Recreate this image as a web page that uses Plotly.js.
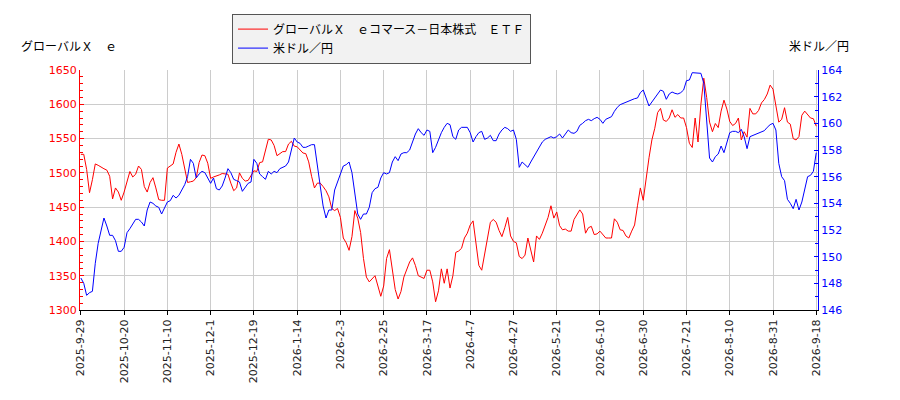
<!DOCTYPE html>
<html>
<head>
<meta charset="utf-8">
<script src="https://cdn.plot.ly/plotly-3.0.1.min.js"></script>
<style>
  html, body { margin: 0; padding: 0; background: #fff; }
  #chart { width: 900px; height: 400px; }
</style>
</head>
<body>
<div id="chart"></div>
<script>
// tick dates, one every 15 trading days
const tickDays = [0, 15, 30, 45, 60, 75, 90, 105, 120, 135, 150, 165, 180, 195, 210, 225, 240, 255];
const tickLabels = ['2025-9-29', '2025-10-20', '2025-11-10', '2025-12-1', '2025-12-19', '2026-1-14',
  '2026-2-3', '2026-2-25', '2026-3-17', '2026-4-7', '2026-4-27', '2026-5-21', '2026-6-10',
  '2026-6-30', '2026-7-21', '2026-8-10', '2026-8-31', '2026-9-18'];

// ETF closing price, one per trading day
const etfPrice = [
  1527, 1527, 1505, 1471, 1490, 1513, 1511, 1508, 1506, 1504,
  1495, 1462, 1478, 1472, 1460, 1472, 1488, 1502, 1494, 1498,
  1510, 1505, 1480, 1472, 1486, 1493, 1478, 1461, 1460, 1460,
  1507, 1510, 1513, 1530, 1542, 1527, 1505, 1486, 1487, 1488,
  1493, 1515, 1526, 1525, 1514, 1492, 1494, 1495, 1497, 1499,
  1499, 1498, 1485, 1474, 1478, 1500, 1492, 1488, 1489, 1496,
  1503, 1502, 1515, 1516, 1535, 1549, 1548, 1540, 1525, 1528,
  1531, 1531, 1542, 1546, 1539, 1538, 1534, 1529, 1528, 1516,
  1495, 1478, 1485, 1485, 1480, 1474, 1465, 1448, 1445, 1448,
  1435, 1405, 1398, 1387, 1407, 1445, 1434, 1413, 1375, 1348,
  1341, 1345, 1350, 1335, 1320, 1335, 1375, 1388, 1355, 1330,
  1316, 1327, 1348, 1358, 1370, 1376, 1365, 1350, 1348, 1346,
  1358, 1358, 1341, 1312, 1328, 1360, 1339, 1360, 1332, 1350,
  1384, 1386, 1390, 1405, 1412, 1424, 1430, 1397, 1365, 1358,
  1380, 1405, 1428, 1432, 1428, 1416, 1407, 1420, 1435, 1408,
  1400, 1398, 1378, 1375, 1380, 1405, 1388, 1370, 1408, 1403,
  1412, 1424, 1435, 1452, 1434, 1443, 1423, 1417, 1418, 1415,
  1415, 1432, 1440, 1446, 1440, 1412, 1420, 1422, 1410, 1411,
  1415, 1410, 1405, 1405, 1405, 1433, 1428, 1417, 1416, 1408,
  1405, 1415, 1424, 1452, 1478, 1460, 1495, 1522, 1548, 1565,
  1588, 1594, 1577, 1575, 1580, 1592, 1581, 1585, 1580, 1580,
  1566, 1543, 1537, 1580, 1545, 1600, 1638, 1610, 1574, 1560,
  1572, 1566, 1590, 1606, 1593, 1575, 1569, 1572, 1580, 1548,
  1560, 1552, 1594, 1586, 1586, 1591, 1602, 1607, 1615, 1628,
  1622, 1600, 1574, 1578, 1595, 1574, 1571, 1550, 1548, 1553,
  1584, 1590, 1585, 1580, 1579, 1568
];

// USD/JPY, one per trading day
const usdJpy = [
  148.4, 148.0, 147.1, 147.3, 147.4, 149.5, 151.0, 152.0, 152.9, 152.3,
  151.6, 151.6, 151.2, 150.4, 150.4, 150.7, 151.8, 152.1, 152.5, 152.8,
  152.8, 152.6, 152.3, 153.5, 154.1, 154.0, 153.8, 153.7, 153.2, 153.6,
  154.1, 154.2, 154.6, 154.4, 154.6, 155.0, 155.4, 156.0, 157.3, 157.0,
  155.9, 156.2, 156.4, 156.3, 155.9, 155.5, 155.9, 155.1, 155.0, 155.3,
  155.9, 156.6, 156.3, 155.8, 155.7, 155.6, 154.9, 155.2, 155.5, 155.6,
  157.3, 157.0, 156.2, 156.0, 155.8, 156.4, 156.2, 156.4, 156.3, 156.6,
  156.7, 156.8, 157.1, 157.9, 158.9, 158.6, 158.5, 158.2, 158.2, 158.3,
  158.4, 158.4, 156.7, 155.3, 153.8, 152.9, 153.5, 153.5, 155.0, 155.6,
  156.2, 156.8, 156.9, 157.1, 156.3, 154.8, 153.2, 152.8, 153.2, 153.2,
  153.7, 154.8, 155.1, 155.2, 155.9, 156.3, 156.2, 156.3, 157.1, 157.5,
  157.2, 157.7, 157.8, 157.8, 158.0, 158.6, 159.2, 159.6, 159.3, 159.1,
  159.5, 159.4, 157.8, 158.2, 158.8, 159.3, 159.7, 160.0, 159.9, 159.0,
  158.8, 159.5, 159.7, 159.7, 159.7, 159.3, 158.6, 159.0, 159.3, 159.4,
  158.8, 158.9, 159.1, 158.7, 158.7, 159.2, 159.5, 159.7, 159.6, 159.4,
  159.5, 158.8, 156.7, 157.1, 156.9, 156.7, 157.1, 157.5, 157.8, 158.2,
  158.6, 158.8, 158.9, 159.0, 158.9, 159.0, 159.2, 158.9, 159.2, 159.5,
  159.3, 159.25, 159.4, 159.85, 160.0, 160.2, 160.3, 160.2, 160.35, 160.45,
  160.3, 160.0, 160.3, 160.4, 160.5, 160.9, 161.2, 161.4, 161.5, 161.6,
  161.7, 161.75, 161.85, 161.9, 162.3, 162.5, 161.9, 161.3, 161.6, 161.9,
  162.2, 162.5, 162.4, 161.8, 162.2, 162.35, 162.25, 162.2, 162.3, 162.5,
  163.2, 163.25, 163.8, 163.8, 163.8, 163.75, 163.0, 159.9, 157.4, 157.1,
  157.5, 157.7, 158.3, 157.8, 158.5, 159.3, 159.4, 159.4, 159.3, 159.55,
  159.0, 158.1, 159.0, 159.1, 159.2, 159.3, 159.4, 159.45, 159.7, 159.9,
  160.0, 159.5, 157.0, 156.0, 155.7, 154.3, 154.0, 153.6, 154.3, 153.5,
  154.1, 155.0, 156.0, 156.1, 156.4, 157.8
];

const etfName = 'グローバルＸ　ｅコマース－日本株式　ＥＴＦ';
const fxName = '米ドル／円';

const days = etfPrice.map((v, i) => i);

const traces = [
  {
    x: days,
    y: etfPrice,
    type: 'scatter',
    mode: 'lines',
    name: etfName,
    line: {color: '#ff0000', width: 1},
    yaxis: 'y'
  },
  {
    x: days,
    y: usdJpy,
    type: 'scatter',
    mode: 'lines',
    name: fxName,
    line: {color: '#0000ff', width: 1},
    yaxis: 'y2'
  }
];

const tickFont = {family: 'DejaVu Sans, sans-serif', size: 11};

const layout = {
  width: 900,
  height: 400,
  margin: {l: 80, r: 82, t: 70, b: 90},
  paper_bgcolor: '#ffffff',
  plot_bgcolor: '#ffffff',
  font: {family: '"Noto Sans CJK JP", "DejaVu Sans", sans-serif', size: 12, color: '#000'},
  showlegend: true,
  legend: {
    x: 0.206, xanchor: 'left',
    y: 1.235, yanchor: 'top',
    bgcolor: '#f2f2f2',
    bordercolor: '#555',
    borderwidth: 1,
    itemwidth: 30,
    tracegroupgap: 0,
    font: {family: '"Noto Sans CJK JP", sans-serif', size: 12, color: '#000'}
  },
  xaxis: {
    range: [-0.3, 255.6],
    tickmode: 'array',
    tickvals: tickDays,
    ticktext: tickLabels,
    tickangle: -90,
    tickfont: Object.assign({color: '#222'}, tickFont),
    ticks: 'outside',
    ticklen: 4,
    tickcolor: '#000',
    showgrid: true,
    gridcolor: '#cccccc',
    gridwidth: 1,
    showline: true,
    linecolor: '#000',
    linewidth: 1,
    zeroline: false
  },
  yaxis: {
    range: [1300, 1650],
    dtick: 50,
    tick0: 1300,
    ticks: 'inside',
    ticklen: 4,
    tickcolor: '#ff0000',
    tickfont: Object.assign({color: '#ff0000'}, tickFont),
    minor: {dtick: 10, ticks: 'inside', ticklen: 3, tickcolor: '#ff0000', showgrid: false},
    showgrid: true,
    gridcolor: '#cccccc',
    gridwidth: 1,
    showline: true,
    linecolor: '#ff0000',
    linewidth: 1,
    zeroline: false
  },
  yaxis2: {
    overlaying: 'y',
    side: 'right',
    range: [146, 164],
    dtick: 2,
    tick0: 146,
    ticks: 'inside',
    ticklen: 4,
    tickcolor: '#0000ff',
    tickfont: Object.assign({color: '#0000ff'}, tickFont),
    minor: {dtick: 1, ticks: 'inside', ticklen: 3, tickcolor: '#0000ff', showgrid: false},
    showgrid: false,
    showline: true,
    linecolor: '#0000ff',
    linewidth: 1,
    zeroline: false
  },
  annotations: [
    {
      text: 'グローバルＸ　ｅ',
      xref: 'paper', yref: 'paper',
      x: -0.082, y: 1.1, xanchor: 'left', yanchor: 'middle',
      showarrow: false,
      font: {family: '"Noto Sans CJK JP", sans-serif', size: 12, color: '#000'}
    },
    {
      text: fxName,
      xref: 'paper', yref: 'paper',
      x: 1.045, y: 1.1, xanchor: 'right', yanchor: 'middle',
      showarrow: false,
      font: {family: '"Noto Sans CJK JP", sans-serif', size: 12, color: '#000'}
    }
  ]
};

Plotly.newPlot('chart', traces, layout, {displayModeBar: false, staticPlot: true});
</script>
</body>
</html>
